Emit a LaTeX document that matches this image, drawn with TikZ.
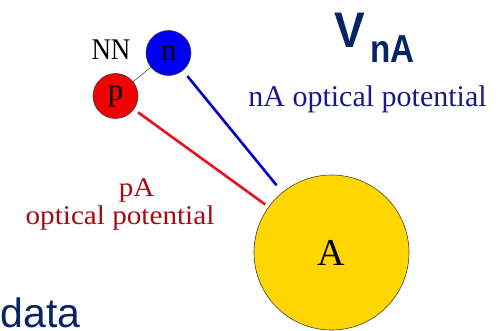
\documentclass[tikz,border=0pt]{standalone}
\usepackage{fontspec}
\setmainfont{Liberation Serif}
\newfontfamily\timesf{Liberation Serif}
\newfontfamily\arialf{Liberation Sans}
\usepackage{graphicx}
\definecolor{navy}{RGB}{8,36,102}
\definecolor{natext}{RGB}{25,25,140}
\definecolor{patext}{RGB}{165,10,20}
\definecolor{ballblue}{RGB}{0,0,240}
\definecolor{ballred}{RGB}{240,0,0}
\definecolor{lineblue}{RGB}{0,0,200}
\definecolor{linered}{RGB}{228,20,30}
\definecolor{gold}{RGB}{255,214,0}
\begin{document}
\begin{tikzpicture}[x=1pt,y=-1pt,
  ball/.style={circle,draw=black!75,line width=0.6pt,inner sep=0pt,text=black},
  lbl/.style={inner sep=0pt,outer sep=0pt,anchor=base},
  potline/.style={line width=2.6pt},
]
\useasboundingbox (0,0) rectangle (498,331);
% particles
\node[ball,fill=ballblue,minimum size=45pt,font=\timesf\fontsize{31}{31}\selectfont] (n) at (168.5,53) {n};
\node[ball,fill=ballred,minimum size=45pt,font=\timesf\fontsize{31}{31}\selectfont] (p) at (115.5,96) {p};
\node[ball,fill=gold,minimum size=155pt,font=\timesf\fontsize{38}{38}\selectfont] (A) at (331.5,252.5) {A};
% connectors
\draw[black!70,line width=0.6pt] (p) -- (n);
\draw[potline,lineblue,shorten <=7pt,shorten >=9pt] (n) -- (A);
\draw[potline,linered,shorten <=5pt,shorten >=4pt] (p) -- (A);
% labels
\node[lbl] (nn) at (111,60) {\timesf\fontsize{30}{30}\selectfont\scalebox{0.9}[1]{NN}};
\node[lbl,anchor=base west,text=navy] (V) at (334,48) {\arialf\bfseries\fontsize{50}{50}\selectfont\scalebox{0.92}[1]{V}};
\node[lbl,anchor=base west,text=navy] (sub) at (370,63) {\arialf\bfseries\fontsize{39}{39}\selectfont\scalebox{0.85}[1]{nA}};
\node[lbl,text=natext] (nalbl) at (367.5,106.7) {\timesf\fontsize{30}{30}\selectfont nA optical potential};
\node[lbl,text=patext] (palbl) at (136.7,196.7) {\timesf\fontsize{27}{27}\selectfont\scalebox{1.08}[1]{pA}};
\node[lbl,text=patext] (palbl2) at (120,225) {\timesf\fontsize{27}{27}\selectfont\scalebox{1.08}[1]{optical potential}};
\node[lbl,anchor=base west,text=navy] (data) at (1,327) {\arialf\fontsize{41}{41}\selectfont data};
\end{tikzpicture}
\end{document}
